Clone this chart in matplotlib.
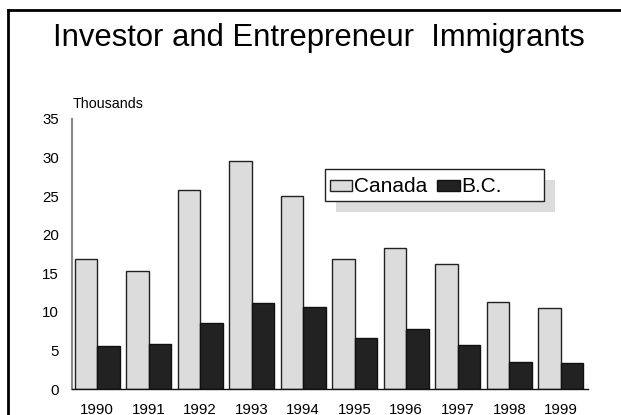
import numpy as np
import matplotlib.pyplot as plt
from matplotlib.lines import Line2D
from matplotlib.patches import Rectangle

plt.rcParams['font.family'] = ['Liberation Sans', 'DejaVu Sans']

# Investor and entrepreneur immigrants, thousands
years = ['1990', '1991', '1992', '1993', '1994', '1995', '1996', '1997', '1998', '1999']
canada = [16.8, 15.3, 25.8, 29.6, 25.0, 16.8, 18.3, 16.2, 11.3, 10.5]
bc = [5.6, 5.8, 8.6, 11.1, 10.6, 6.6, 7.8, 5.7, 3.5, 3.4]

W, H = 621, 415
fig = plt.figure(figsize=(W / 100, H / 100), dpi=100)
ax = fig.add_axes([72/W, 1 - 389/H, (588 - 72)/W, (389 - 119)/H])

x = np.arange(len(years))
w = 0.433
ax.bar(x - w/2, canada, w, color='#dcdcdc', edgecolor='#222222', linewidth=1, label='Canada')
ax.bar(x + w/2, bc, w, color='#222222', edgecolor='#111111', linewidth=1, label='B.C.')

ax.set_xlim(-0.49, 9.53)
ax.set_ylim(0, 35)
ax.set_yticks(range(0, 36, 5))
ax.set_xticks(x)
ax.set_xticklabels(years)
ax.tick_params(axis='both', length=0, labelsize=10.8)
ax.tick_params(axis='y', pad=9.5)
ax.tick_params(axis='x', pad=10)
for side in ['top', 'right']:
    ax.spines[side].set_visible(False)
ax.spines['left'].set_color('#888888')
ax.spines['left'].set_linewidth(1.5)
ax.spines['bottom'].set_color('#111111')
ax.spines['bottom'].set_linewidth(1)

fig.text(73/W, 1 - 108/H, 'Thousands', fontsize=10.3, va='baseline', ha='left')
fig.text(319/W, 1 - 46/H, 'Investor and Entrepreneur  Immigrants',
         fontsize=22.3, ha='center', va='baseline')

# legend box with its drop shadow
fig.add_artist(Rectangle((336/W, 1 - 212/H), 219/W, 32/H, transform=fig.transFigure,
                         facecolor='#dcdcdc', edgecolor='none', zorder=3))
fig.add_artist(Rectangle((325/W, 1 - 201/H), 219/W, 32/H, transform=fig.transFigure,
                         facecolor='white', edgecolor='#222222', linewidth=1, zorder=4))
leg = ax.legend(ncol=2, loc='center left', bbox_to_anchor=(330/W, 1 - 187/H),
                bbox_transform=fig.transFigure, fontsize=15, frameon=False,
                handlelength=1.06, handleheight=0.43, handletextpad=0.08,
                columnspacing=0.5, borderpad=0, borderaxespad=0)
leg.set_zorder(5)
leg.remove()
fig.add_artist(leg)

# outer frame
fig.add_artist(Line2D([8/W, 8/W], [0, 1 - 10/H], color='black', lw=2,
                      transform=fig.transFigure))
fig.add_artist(Line2D([8/W, 1], [1 - 10/H, 1 - 10/H], color='black', lw=2,
                      transform=fig.transFigure))

fig.savefig('out.png', dpi=100)
